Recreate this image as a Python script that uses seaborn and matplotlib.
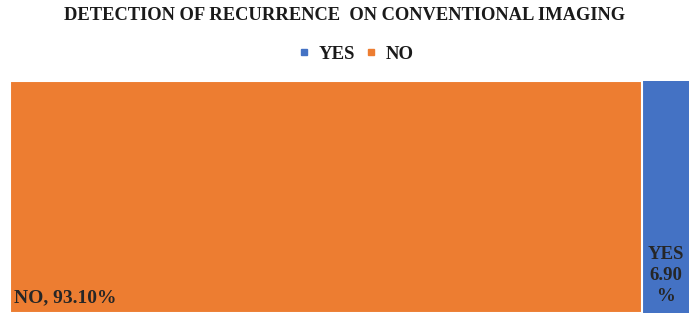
import matplotlib
matplotlib.use("Agg")
import matplotlib.pyplot as plt
import seaborn as sns
import pandas as pd
from matplotlib.lines import Line2D

categories = ["YES", "NO"]
shares = [6.90, 93.10]
colors = ["#4472C4", "#ED7D31"]
title = "DETECTION OF RECURRENCE  ON CONVENTIONAL IMAGING"

sns.set_theme(style="white")
plt.rcParams["font.family"] = ["Liberation Serif", "DejaVu Serif"]

fig = plt.figure(figsize=(6.89, 3.23), dpi=100)
ax = fig.add_axes([10 / 689, 10 / 323, 1 - 10 / 689, (313 - 81) / 323])

# Segments stacked along one full-height bar: NO first, then YES.
no_share = shares[categories.index("NO")]
yes_share = shares[categories.index("YES")]
total = no_share + yes_share
df_yes = pd.DataFrame({"end": [total], "row": ["all"]})
df_no = pd.DataFrame({"end": [no_share], "row": ["all"]})

sns.barplot(data=df_yes, x="end", y="row", orient="h", width=1.0,
            color=colors[0], saturation=1, edgecolor="white", linewidth=0, ax=ax)
sns.barplot(data=df_no, x="end", y="row", orient="h", width=1.0,
            color=colors[1], saturation=1, edgecolor="white", linewidth=1.5, ax=ax)

ax.set_xlim(0, total)
ax.set_ylim(0.5, -0.5)
ax.set_xlabel("")
ax.set_ylabel("")
ax.set_xticks([])
ax.set_yticks([])
for s in ax.spines.values():
    s.set_visible(False)

# Segment labels
ax.text(0.55, 0.47, f"NO, {no_share:.2f}%", ha="left", va="bottom",
        fontsize=14, fontweight="bold", color="#262626")
ax.text(no_share + yes_share / 2 + 0.05, 0.465, f"YES\n{yes_share:.2f}\n%",
        ha="center", va="bottom", fontsize=13.5, fontweight="bold",
        color="#262626", linespacing=1.3)

fig.text(0.5, 1 - 16 / 323, title, ha="center", va="center",
         fontsize=13.3, fontweight="bold", color="#1a1a1a")

handles = [Line2D([0], [0], marker="s", linestyle="", markersize=4.5,
                  markerfacecolor=c, markeredgecolor=c) for c in colors]
fig.legend(handles, categories, loc="center", bbox_to_anchor=(356 / 689, 1 - 54 / 323),
           ncol=2, frameon=False, handlelength=0.6, handletextpad=0.5,
           columnspacing=0.55, prop={"size": 13.5, "weight": "bold"},
           labelcolor="#1a1a1a")

fig.savefig("out.png", dpi=100)
